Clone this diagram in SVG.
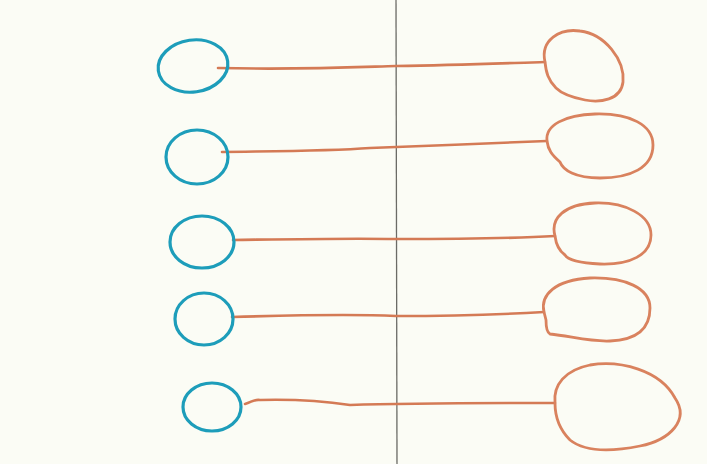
<svg xmlns="http://www.w3.org/2000/svg" width="707" height="464" viewBox="0 0 707 464">
<style>
.bg{fill:#fbfcf5}
.blue{fill:none;stroke:#1d9dba;stroke-width:3.2}
.orange{fill:none;stroke:#d9825e;stroke-width:2.8;stroke-linejoin:round}
.link{fill:none;stroke:#d47a55;stroke-width:2.6;stroke-linecap:round}
.rule{stroke:#6b6b66;stroke-width:1.3}
</style>
<rect class="bg" x="0" y="0" width="707" height="464"/>
<line class="rule" x1="396" y1="0" x2="397" y2="464"/>
<g id="connectors">
<path class="link" d="M218 68 C300 70 360 67 396 66 C460 65 510 63 545 62"/>
<path class="link" d="M222 152 C290 151 330 151 370 148 C420 146 500 143 547 141"/>
<path class="link" d="M233 240 C300 239 350 238 396 239 C460 239 520 238 555 236"/>
<path class="link" d="M232 317 C300 315 350 314 396 316 C460 316 510 314 544 312"/>
<path class="link" d="M245 404 C252 402 254 399 260 400 C300 399 330 402 350 405 C380 404 460 403 555 403"/>
</g>
<g id="left1"><ellipse class="blue" cx="193" cy="66" rx="35" ry="26" transform="rotate(-8 193 66)"/></g>
<g id="left2"><ellipse class="blue" cx="197" cy="157" rx="31" ry="27"/></g>
<g id="left3"><ellipse class="blue" cx="202" cy="242" rx="32" ry="26"/></g>
<g id="left4"><ellipse class="blue" cx="204" cy="319" rx="29" ry="26"/></g>
<g id="left5"><ellipse class="blue" cx="212" cy="407" rx="29" ry="24"/></g>
<g id="right1"><path class="orange" d="M545 62 C540 40 560 28 580 31 C605 34 625 60 623 82 C621 100 600 103 585 100 C570 97 560 92 556 88 C548 80 546 72 545 62 Z"/></g>
<g id="right2"><path class="orange" d="M547 141 C545 125 565 115 595 114 C630 113 653 125 653 145 C653 168 630 178 600 178 C575 178 563 170 560 162 C552 155 548 150 547 141 Z"/></g>
<g id="right3"><path class="orange" d="M555 236 C550 218 565 204 595 203 C625 202 651 215 651 235 C651 255 630 265 600 264 C580 263 568 260 565 255 C558 250 556 244 555 236 Z"/></g>
<g id="right4"><path class="orange" d="M544 312 C540 295 555 280 590 278 C625 277 650 288 650 308 C650 330 635 340 610 341 C590 342 570 336 550 334 C546 332 546 325 546 320 Z"/></g>
<g id="right5"><path class="orange" d="M555 403 C553 385 565 370 590 365 C620 360 660 370 675 398 C690 420 670 440 640 446 C610 452 585 452 570 440 C560 430 555 418 555 403 Z"/></g>
</svg>
